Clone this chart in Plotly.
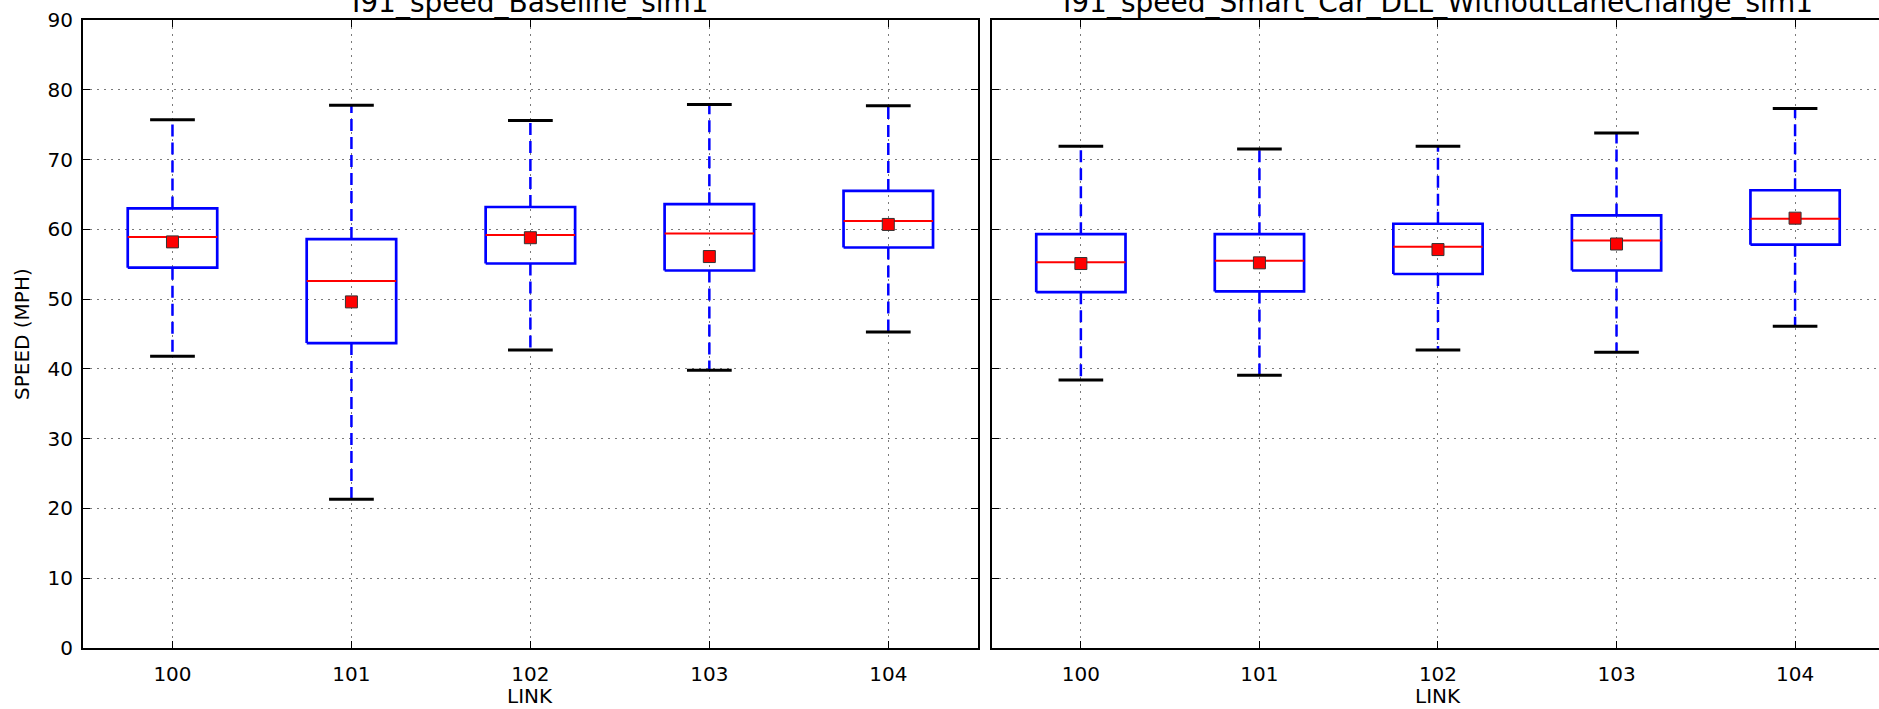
import plotly.graph_objects as go

links = [100, 101, 102, 103, 104]

titles = ["I91_speed_Baseline_sim1", "I91_speed_Smart_Car_DLL_WithoutLaneChange_sim1"]

# Baseline
base_low = [41.8, 21.3, 42.7, 39.8, 45.3]
base_q1 = [54.5, 43.7, 55.1, 54.1, 57.4]
base_med = [58.9, 52.6, 59.2, 59.4, 61.2]
base_q3 = [63.0, 58.6, 63.2, 63.6, 65.5]
base_high = [75.7, 77.8, 75.6, 77.9, 77.7]
base_mean = [58.2, 49.6, 58.8, 56.1, 60.7]

# Smart car DLL without lane change
smart_low = [38.4, 39.1, 42.7, 42.4, 46.1]
smart_q1 = [51.0, 51.1, 53.6, 54.1, 57.8]
smart_med = [55.3, 55.5, 57.5, 58.4, 61.5]
smart_q3 = [59.3, 59.3, 60.8, 62.0, 65.6]
smart_high = [71.9, 71.5, 71.9, 73.8, 77.3]
smart_mean = [55.1, 55.2, 57.1, 57.9, 61.6]

BOX_W = 0.5
CAP_W = 0.25
FONT = "DejaVu Sans, sans-serif"

fig = go.Figure()


def add_panel(low, q1, med, q3, high, mean, xa, ya):
    bx, by, wx, wy, cx, cy, mx, my = [], [], [], [], [], [], [], []
    for x, lo, a, m, b, hi in zip(links, low, q1, med, q3, high):
        h = BOX_W / 2
        bx += [x - h, x + h, x + h, x - h, x - h, None]
        by += [a, a, b, b, a, None]
        wx += [x, x, None, x, x, None]
        wy += [b, hi, None, a, lo, None]
        c = CAP_W / 2
        cx += [x - c, x + c, None, x - c, x + c, None]
        cy += [hi, hi, None, lo, lo, None]
        mx += [x - h, x + h, None]
        my += [m, m, None]
    common = dict(xaxis=xa, yaxis=ya, showlegend=False, hoverinfo="skip")
    fig.add_trace(go.Scatter(x=wx, y=wy, mode="lines",
                             line=dict(color="#0000ff", width=2.5, dash="12px,6px"), **common))
    fig.add_trace(go.Scatter(x=cx, y=cy, mode="lines",
                             line=dict(color="black", width=3), **common))
    fig.add_trace(go.Scatter(x=bx, y=by, mode="lines",
                             line=dict(color="#0000ff", width=2.7), **common))
    fig.add_trace(go.Scatter(x=mx, y=my, mode="lines",
                             line=dict(color="#ff0000", width=2), **common))
    fig.add_trace(go.Scatter(x=links, y=mean, mode="markers",
                             marker=dict(symbol="square", size=12, color="#ff0000",
                                         line=dict(color="#333333", width=1)), **common))


add_panel(base_low, base_q1, base_med, base_q3, base_high, base_mean, "x", "y")
add_panel(smart_low, smart_q1, smart_med, smart_q3, smart_high, smart_mean, "x2", "y2")

grid = dict(showgrid=True, gridcolor="#7a7a7a", gridwidth=1, griddash="2px,5px")
axis_common = dict(
    ticks="inside", ticklen=7, tickwidth=1, tickcolor="black",
    showline=True, linecolor="black", linewidth=2, zeroline=False,
    tickfont=dict(family=FONT, size=20, color="black"), **grid,
)

fig.update_layout(
    width=1879, height=709,
    margin=dict(l=83, r=0, t=20, b=61),
    paper_bgcolor="white", plot_bgcolor="white",
    font=dict(family=FONT, color="black"),
    xaxis=dict(domain=[0, 0.4982], range=[99.5, 104.5], tickvals=links,
               mirror="ticks", ticklabelstandoff=7, **axis_common),
    yaxis=dict(domain=[0, 1], range=[0, 90], dtick=10, mirror="ticks",
               ticklabelstandoff=4, **axis_common),
    xaxis2=dict(domain=[0.5059, 1.0], range=[99.5, 104.47], tickvals=links,
                mirror="ticks", anchor="y2", ticklabelstandoff=7, **axis_common),
    yaxis2=dict(domain=[0, 1], range=[0, 90], dtick=10, anchor="x2",
                showticklabels=False, mirror=False, **axis_common),
)

annotations = []
for i, (t, xr) in enumerate(zip(titles, ["x", "x2"])):
    annotations.append(dict(text=t, xref=xr, x=102, yref="paper", y=1,
                            yanchor="bottom", yshift=-1, showarrow=False,
                            font=dict(family=FONT, size=28, color="black")))
    annotations.append(dict(text="LINK", xref=xr, x=102, yref="paper", y=0,
                            yanchor="middle", yshift=-48, showarrow=False,
                            font=dict(family=FONT, size=20, color="black")))
annotations.append(dict(text="SPEED (MPH)", xref="paper", x=0, xshift=-61,
                        yref="paper", y=0.5, textangle=-90, showarrow=False,
                        xanchor="center", yanchor="middle",
                        font=dict(family=FONT, size=20, color="black")))
fig.update_layout(annotations=annotations)

fig.write_html(
    "out.html",
    config={"displayModeBar": False},
    post_script="document.body.style.margin='0';document.body.style.overflow='hidden';",
)
